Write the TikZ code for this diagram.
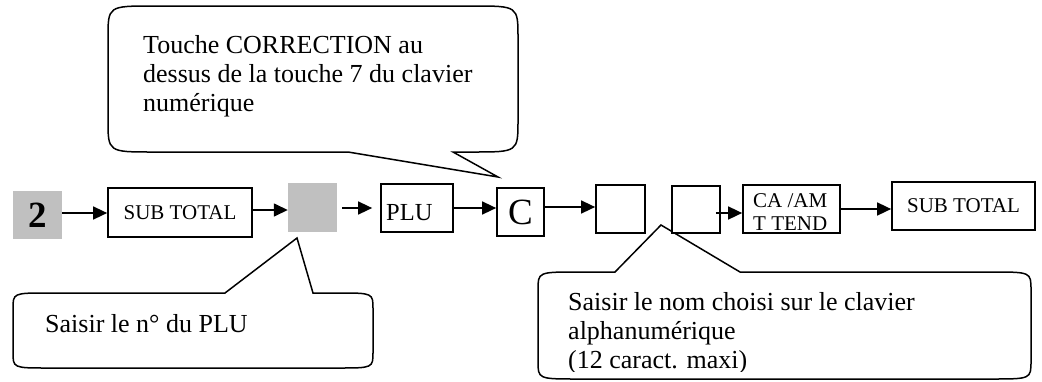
\documentclass[tikz,border=0pt]{standalone}
\usepackage{fontspec}
\setmainfont{Liberation Serif}
\usetikzlibrary{arrows.meta,calc}
\tikzset{
  keybox/.style={draw=black, line width=1.7pt, inner sep=0pt, fill=white},
  graybox/.style={fill=silverg, draw=none, inner sep=0pt},
  arr/.style={line width=1.5pt, -{Triangle[length=14pt,width=13pt]}},
  callout/.style={draw=black, line width=1.5pt, line join=miter},
  btext/.style={inner sep=0pt, font=\fontsize{21}{24}\selectfont},
  ctext/.style={inner sep=0pt, anchor=base west, font=\fontsize{26}{29}\selectfont},
}
\definecolor{silverg}{RGB}{192,192,192}
\begin{document}
\begin{tikzpicture}[x=1pt,y=-1pt]
\useasboundingbox (0,0) rectangle (1042,381);

% callout 1 (top)
\coordinate (tipA) at (498,177);
\draw[callout] (348,152) -- (tipA) -- (453,152) -- (473,152) .. controls (518,152) .. (518,120)
  -- (518,38) .. controls (518,6) .. (473,6) -- (153,6) .. controls (108,6) .. (108,38)
  -- (108,120) .. controls (108,152) .. (153,152) -- cycle;
\node[ctext] (ta1) at (143,53) {Touche CORRECTION au};
\node[ctext] (ta2) at (143,82) {dessus de la touche 7 du clavier};
\node[ctext] (ta3) at (143,111) {numérique};

% callout 2 (bottom left)
\coordinate (tipB) at (297,238);
\draw[callout] (225,293) -- (tipB) -- (313,293) -- (338,293) .. controls (373,293) .. (373,309)
  -- (373,352) .. controls (373,368) .. (338,368) -- (48,368) .. controls (13,368) .. (13,352)
  -- (13,309) .. controls (13,293) .. (48,293) -- cycle;
\node[ctext] (tb1) at (45,332) {Saisir le n° du PLU};

% callout 3 (bottom right)
\coordinate (tipC) at (661,225);
\draw[callout] (615,272) -- (tipC) -- (740,272) -- (991,272) .. controls (1031,272) .. (1031,290)
  -- (1031,361) .. controls (1031,379) .. (991,379) -- (578,379) .. controls (538,379) .. (538,361)
  -- (538,290) .. controls (538,272) .. (578,272) -- cycle;
\node[ctext] (tc1) at (568,310) {Saisir le nom choisi sur le clavier};
\node[ctext] (tc2) at (568,339) {alphanumérique};
\begin{scope}
  \clip (545,345) rectangle (1025,371);
  \node[ctext] (tc3) at (568,368) {(12 caract. maxi)};
\end{scope}

% boxes
\node[graybox, minimum width=49pt, minimum height=48pt, font=\fontsize{37}{40}\selectfont\bfseries] (two) at (37.5,215) {2};
\node[keybox, minimum width=144pt, minimum height=49pt, btext] (st1) at (180,212.5) {SUB TOTAL};
\node[graybox, minimum width=49pt, minimum height=49pt] (g2) at (312.5,207.5) {};
\node[keybox, minimum width=72pt, minimum height=48pt] (plu) at (417,208) {};
\node[inner sep=0pt, anchor=base west, font=\fontsize{24.5}{27}\selectfont] (plut) at (386,220) {PLU};
\node[keybox, minimum width=47pt, minimum height=48pt, font=\fontsize{37}{40}\selectfont] (c) at (520.5,212) {C};
\node[keybox, minimum width=49pt, minimum height=48pt] (e1) at (620.5,209) {};
\node[keybox, minimum width=48pt, minimum height=47pt] (e2) at (696,209.5) {};
\node[keybox, minimum width=97pt, minimum height=48pt] (ca) at (791.5,209) {};
\node[btext, anchor=base west] (cat1) at (753,207) {CA /AM};
\node[btext, anchor=base west] (cat2) at (753,230) {T TEND};
\node[keybox, minimum width=143pt, minimum height=48pt, btext] (st2) at (963.5,206) {SUB TOTAL};

% arrows
\draw[arr] (two.east |- 0,213) -- (st1.west |- 0,213);
\draw[arr] (st1.east |- 0,210) -- (g2.west |- 0,210);
\draw[arr] ($(g2.east |- 0,208)+(5,0)$) -- ($(plu.west |- 0,208)+(-8,0)$);
\draw[arr] ($(plu.east |- 0,208)+(-2,0)$) -- (c.west |- 0,208);
\draw[arr] (c.east |- 0,207) -- (e1.west |- 0,207);
\draw[arr] ($(e2.east |- 0,213)+(-5,0)$) -- (ca.west |- 0,213);
\draw[arr] (ca.east |- 0,209) -- (st2.west |- 0,209);
\end{tikzpicture}
\end{document}
